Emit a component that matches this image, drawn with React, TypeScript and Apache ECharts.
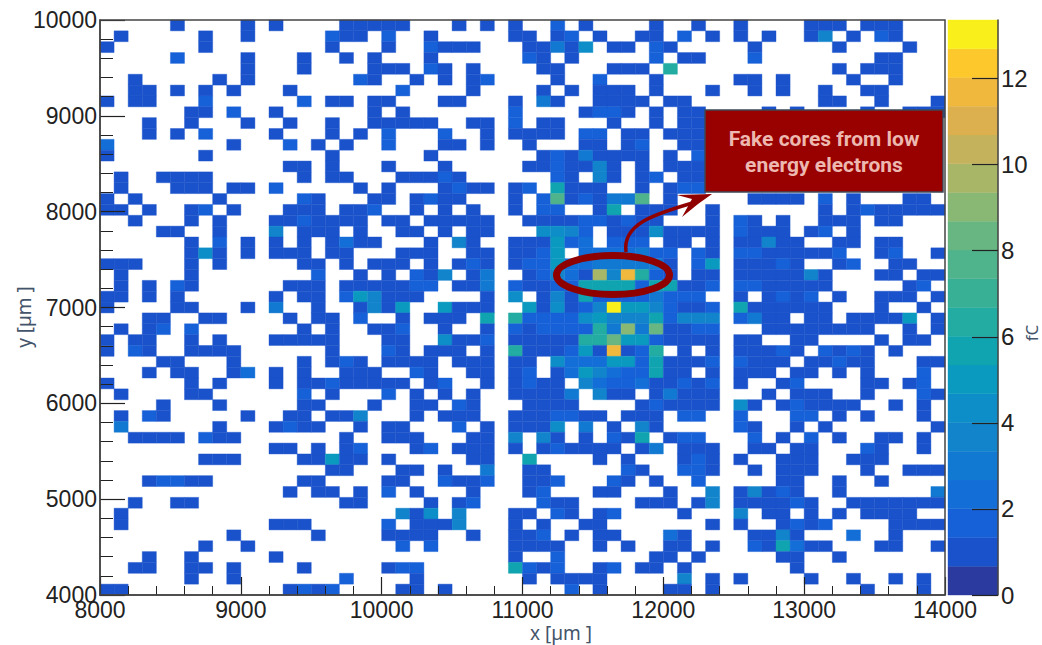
import React, { useEffect, useRef } from "react";
import * as echarts from "echarts";

const xMin = 8000, xMax = 14000, xBins = 60;
const yMin = 4000, yMax = 10000, yBins = 53;
const fcMax = 13.36;
const fcTicks = [0, 2, 4, 6, 8, 10, 12];
const axisTitleX = "x [µm ]";
const axisTitleY = "y [µm ]";
const axisTitleZ = "fC";
const calloutLines = ["Fake cores from low", "energy electrons"];

// colour levels of the palette, bottom to top
const palette = [
  "#2a3a9f", "#1a52cb", "#1660d8", "#146ed8", "#1279d2", "#1184cc", "#0d8ec8", "#0a9ac0", "#10a4b0", "#22aca2",
  "#38b096", "#4fb38c", "#68b682", "#88b874", "#a8b668", "#c4b25c", "#dcb04e", "#f0b83c", "#fcc82c", "#f9ef1a",
];

// each row from the top: "column" (about 1 fC) or "column:fC"
const rows = [
  "5 10 12 17 18 19 20 21 25 27 29 32:2 34 39 42 45 50 51 52 54 55 56",
  "1 7 10 16:2 17 18 20:2 23 29 30 32 33:2 35 38 39 41:2 43 45 47 50 51:4 53 55:2 56",
  "0 7 16 20 23:2 24 25 26 30 31 32:3 33 34:4.5 36 37 39:2 40 46 52 57",
  "5:2 10 14 17 19 23 30:2 31 33 39:2 41 42 46:2 55 56",
  "10 14 19 20 21 23:2 24 26 31 32 36 37 38 40:6.5 52 54 55 56",
  "2 8 10 18:2 19 22 24 26 27:2 32 35:2 39 45 46 48 53 56",
  "2 3 5 7 9 13 21:2 26 31 33 35 36 37 39 43 46 48 51 54 55",
  "0 2 3 7:2 14:2 16 17 19 20 24 25 29 31:3 32 35 36 37 38 40 41 51 52 55 59",
  "6 7 9:2 12 19 21 29:2 34 35:2 36:2 37 39 41 42 47 49 54 57 58 59",
  "3 6 10 13 16 19 20 21 22 23 26 27 29:2 31 32 36 39 41 42",
  "3 5 7:2 12 16 18 20:2 24:2 27 29 30 31 32 34:2 35:2 37 38 40 41 42",
  "0:2.5 9 13:2 15 17 20:2 24 25 27 30 34 35 37 38:2 41 42",
  "0 7 16 23 31 32:2 33 34:3 35 36 37 38 40 42:2",
  "13 14 16 20 24 30 31 32:2 33 34 35:4 36 38 40 41 42",
  "1 4 5 6 7 14 16 17 21 22 23 24:2 25 32:2 33 35:4 36 38 39:2 41 42",
  "1 5 6 7 9 10 12:2 18 20 24 25:2 26 27 29 30:2 32:5.5 33 34 35 38 40 41:2 42:2",
  "0 2 8 14:2 15 19 20 22 23:2 24 25 29 31:2 32:7.5 33 34:2 35 36:3 37:3 38:8 40 46 47 48 49 51:2 53 57 58",
  "0 1 3 6 7:2 9 13 14 15 17 18 19:2 22 24 26 29 31:2 32:2 35 36:6 38 39 40 43 51 53 54:2 55 56 57 58 59",
  "2 6 8 12 13 14:2 15 16 17 18 20 21 23 24 25 26 27 30 31 32 33 34:2 35:2 36 37:2 38 39 43 45:2 46 48 51 52 53 55 56",
  "4 5 8 12:4 14 15 16 18 21 22 24 26 27 31:4.5 32:4.5 33:4 34:2 36 37 38 39:4.5 40 41 42 43 45:2 46 47 48 50 51:2 53",
  "6 8:2 10 12 14 16 17:2.5 18 19 23 25:4 26 29 30 31 32:5 33:2 34:2.5 36:2 37:2 38:2 40 41 43 45 46 47:4 48 49 52 53 55 56",
  "6 7:4.5 8 10 12 13 14 16 17 21 22 23 26 27 29 30 31:2 32:5 34:2.5 35:2.5 36:2.5 37:2.5 38:3 39:2 40:2 42:2 43 45:2 46:2 47 48 49 50 51 52:2 55 56:2 59",
  "0 1 2 6 8 14 15 17 19 20 21 23 25 26:2 27 29 30:2 31:2 32:5 33:2.5 34:2.5 35:3 36:3 37:3 38:3 39:3 40 42:2 43:5 45 46 47 48:2 49 52 53:2 56 57",
  "1 6 15:2 18 20 22:2 23 24:4 26 27:3 30 31:2 32:4 33:2.5 34 35:10 36:4 37:11.5 38:6.5 39:2 40 42 43 45 46 47 48 49 50:4 51 55 56 58 59",
  "1 3 5:2 6 13 14 15 17 18 19 20 21 22:2 23:2 25 26 27:3 29:2 30 31 32:2 33:2 34:5.5 35:6 36:6 37:6 38:2 39:6 40:6 41 42 43:2 45:2 46:2 47 48 49 50 51 57 58:2",
  "0 1 3 5 12 14 15 17:2 18:5 19:4 20 21 22 27 29:4.5 31 32:4 33 34:5.5 35:2 36:2 37:2 38:2 39:3 40:2 41:2 42:2 45 47 48:2 49 50:2 52 55 56 57 59",
  "0 5 6 10 12:3 15 18 19:4 20 21:5 24:5 25 26 27 30:5 31 32:4.5 33 34:2 35:4 36:13.3 37:5 38:5 39:4 40:2 41 42 43:2 45:5.5 46 47 48 49 50 51 55 58",
  "3 4 7 8 13 15 16 18:2 21 23 24 25 27:6 29:6.5 30:2 31:2 32:2 33:2 34:4.5 35:5 36:3.5 37:3.5 38:3.5 39:6 40:2 41:3.5 42:3.5 43:3.5 45:2 46:3 47 48 50 51 53 54 55 56 57:5 59",
  "1 3 4:2 6:2 14 16 19 20 21:2 24 27 29:2 30 31:2 32:2 33:2 34:2 35:6.5 36:3 37:9 38:3 39:8.5 40 41 42:2 43:2 47 48 49 50 51 52 53 54 57 59",
  "0 2 3 6 8 12 13 14 15 16 20 21 24:4.5 25 26 27:2 29 30 31 32 33 34:6.5 35:6.5 36:8.5 37:5 38:5 39:2 40 41 42 43 45 46 49 50 55 57 58",
  "0 2:2 3 6 7 8 9 16 20:2 21 23 24 25 27 29:6.5 30 31 32 33:2 34:5 35 36:12 37 38:2 39:6.5 41 43 45 46 47 48:2 49 51:2 52 53:2 54 56",
  "4 5 9 14 16 17:2 18 20 21 22 23 25 26 27 29 30 32:4.5 33:2.5 34:2.5 35:2.5 36:5 37:5 38:2 39:6 40 41 42 43:2 45:2 46 47 48 50 51 52:2 53 54 58 59",
  "3 5 6 9 10:2.5 12 14 17 18 19 22:2 23 26 27 29 30:2 32 33:2.5 34:5 35:4 36:2.5 37:2 38:2 39:6 40 41 43 45 46 47 49 50 52 54 58:2",
  "0 6 8 12 14 15 16:2 17 18 19 20 21 23 24:2 27 29 30:2 31 32 34:4 35:2.5 36:2 37:2 38:2.5 39 40 41:2 42 43:2 45 48 49:2 54 55 57 58:2",
  "1 6 7 14:2 16 20:2 22 24 26 29 30 31 32 33:3 35:4 36 37 39 40:3 41 42 43 47 49 50 51 54 58:2 59",
  "4 8 14 15 19 22 23 25:2 26 30 31 32 33 38 39:2 40 41 42 43 45:4.5 46 48 49:2 50 51 52 53 56 58",
  "1 3:2 4 10 13 14 16 17 18:4 22 24 25 26 29 30 31 32:2 33:2 34 35 37 38 39 41:2 42:2 45:2 49:2 50:2 52 54 58",
  "1:3 8 12 13:2 14 15 18 20 21 25:2 27 29 30 31 32:4.5 34:3 36 38:4 39 45:2 46 49 51 59",
  "2 3 4 5 7:2 8 9 17 20 21 22 26 27 29:4 31:3.5 32 34 36:2 37 38:5.5 40 41:2 42:2 46:2 48 50:2 52 55 56 58",
  "12 13 15 17 18:2 22 23:2 25 26 27 29 31 32:2 33 34 35 36 38 39:3 41 42 43 46 47 49 50 54:2 55 58",
  "7 8 9 14 15 16:5 17 18 20 26 27 30:6 35 37 41 42:2 43 45 48 49 50 53 54 55",
  "16 17 21 22 24 27:3 30 31 37:2 38 41:2 42:2 43 46 48 49 50 54 57 58 59",
  "3 4:2 5:2 6 7 14 15 20 21 24:2 25 26 27:2 30 31 32:2 36:2 37 39 42:2 48 49 52 55",
  "13 15 16 18 20:2 22 26 30 31:2 35 36 40 43:4 45 46:4 47 48:2 49 52 59:3",
  "2 5 6 17 18 23 25 26:2 31:2 32 33 38 39 40 42 43:3.5 45 46 47 48 49:2 50 53 54 55 56 57 58 59",
  "1 21:3.5 22 23:4.5 25:4 29 30 32:2 33 35 36:2 41 45:4 47 48 50 52 54 55 56 57",
  "1 12 13 14 20:2 22 23 24 25:3.5 29 31 34 35 43 45 48 49:2 50 51:2 56 57 58 59",
  "9 15 20 21 22 23 26 29 30 31:2 33 35 36 40:2.5 41 46 47 48:4 49 53:2.5 56",
  "7 10 21:2 23:2 29 30 31 32 35 37 40 41 43 46:2 47 48:6 49:2.5 50 51 55 56 59",
  "3 6 12 29 32:2 39 40 42 48 49 52",
  "2 3 6 7 9 14 20 21:2 22:2 29:6 30:2 31 32:2 35 36:2 38 39 41 49",
  "6 9 17:2 22 30 32 33 34 35 41:4 43 45 50 53 56 58",
  "0 1 13 14:2 15 16:2 21 22 24 33:2 35 40 41 43 54 58",
];

const xStep = (xMax - xMin) / xBins;
const yStep = (yMax - yMin) / yBins;
const bandStep = fcMax / palette.length;
const colorOf = (v: number) => palette[Math.min(palette.length - 1, Math.floor(v / bandStep))];

const cellData: number[][] = [];
rows.forEach((row, r) => {
  row.split(" ").forEach((token) => {
    const [col, val] = token.split(":");
    const c = Number(col);
    const v = val === undefined ? 1 : Number(val);
    const top = yMax - r * yStep;
    cellData.push([xMin + c * xStep, top - yStep, xMin + (c + 1) * xStep, top, v]);
  });
});
const bandData = palette.map((_, i) => [0, i * bandStep, 1, (i + 1) * bandStep, (i + 0.5) * bandStep]);

const renderBox = (_: any, api: any) => {
  const a = api.coord([api.value(0), api.value(3)]);
  const b = api.coord([api.value(2), api.value(1)]);
  const fill = colorOf(api.value(4));
  return {
    type: "rect",
    shape: { x: a[0], y: a[1], width: b[0] - a[0], height: b[1] - a[1] },
    style: { fill, stroke: fill, lineWidth: 0.4 },
  };
};

const plain = (v: number) => String(v);
const tickFont = { fontFamily: "Liberation Sans", fontSize: 23, color: "#222222", formatter: plain };
const titleFont = { fontFamily: "Noto Sans", fontSize: 19, fill: "#44546a" };
const frameColor = "#444444";
const annot = "#8f0000";

export default function App() {
  const ref = useRef<HTMLDivElement>(null);
  useEffect(() => {
    document.body.style.margin = "0";
    const chart = echarts.init(ref.current!, undefined, { renderer: "svg" });
    chart.setOption({
      animation: false,
      backgroundColor: "#ffffff",
      grid: [
        { left: 100, top: 20, width: 845, height: 575 },
        { left: 948, top: 20, width: 50, height: 575 },
      ],
      xAxis: [
        {
          type: "value", gridIndex: 0, min: xMin, max: xMax, interval: 1000, z: 10, splitLine: { show: false },
          axisLine: { lineStyle: { color: frameColor, width: 1.5 } },
          axisTick: { inside: true, length: 18, lineStyle: { color: "#222", width: 1.2 } },
          minorTick: { show: true, splitNumber: 5, length: 9, lineStyle: { color: "#222", width: 1 } },
          axisLabel: { ...tickFont, margin: 3 },
        },
        { type: "value", gridIndex: 1, min: 0, max: 1, show: false },
      ],
      yAxis: [
        {
          type: "value", gridIndex: 0, min: yMin, max: yMax, interval: 1000, z: 10, splitLine: { show: false },
          axisLine: { lineStyle: { color: frameColor, width: 1.5 } },
          axisTick: { inside: true, length: 25, lineStyle: { color: "#222", width: 1.2 } },
          minorTick: { show: true, splitNumber: 5, length: 13, lineStyle: { color: "#222", width: 1 } },
          axisLabel: { ...tickFont, margin: 3 },
        },
        {
          type: "value", gridIndex: 1, position: "right", min: 0, max: fcMax, z: 10, splitLine: { show: false },
          axisLine: { show: true, onZero: false, lineStyle: { color: frameColor, width: 1.5 } },
          axisTick: { show: true, inside: true, length: 26, customValues: fcTicks, lineStyle: { color: "#222", width: 1.2 } },
          axisLabel: { ...tickFont, fontSize: 24, margin: 3, customValues: fcTicks },
        },
      ],
      series: [
        {
          type: "custom", xAxisIndex: 0, yAxisIndex: 0, renderItem: renderBox, data: cellData, z: 2,
          encode: { x: [0, 2], y: [1, 3] }, silent: true,
        },
        {
          type: "custom", xAxisIndex: 1, yAxisIndex: 1, renderItem: renderBox, data: bandData, z: 2,
          encode: { x: [0, 2], y: [1, 3] }, silent: true,
        },
      ],
      graphic: [
        { type: "rect", z: 20, shape: { x: 100, y: 20, width: 845, height: 575 }, style: { fill: "transparent", stroke: frameColor, lineWidth: 1.5 } },
        { type: "text", z: 20, x: 561, y: 633, style: { text: axisTitleX, ...titleFont, align: "center", verticalAlign: "middle" } },
        { type: "text", z: 20, x: 24, y: 317, rotation: Math.PI / 2, style: { text: axisTitleY, ...titleFont, align: "center", verticalAlign: "middle" } },
        { type: "text", z: 20, x: 1031, y: 333, rotation: Math.PI / 2, style: { text: axisTitleZ, ...titleFont, fontSize: 17, align: "center", verticalAlign: "middle" } },
        { type: "ellipse", z: 30, shape: { cx: 613, cy: 275, rx: 56.5, ry: 19.5 }, style: { fill: "transparent", stroke: annot, lineWidth: 7 } },
        { type: "bezierCurve", z: 30, shape: { x1: 626, y1: 252, cpx1: 622, cpy1: 224, x2: 696, y2: 202, cpx2: 654, cpy2: 214 }, style: { fill: "none", stroke: annot, lineWidth: 3.5 } },
        { type: "polygon", z: 30, shape: { points: [[712, 194], [677, 195], [692, 199], [682, 217], [698, 204]] }, style: { fill: annot } },
        { type: "rect", z: 30, shape: { x: 705, y: 110, width: 238, height: 82 }, style: { fill: "#990000", stroke: "#3c4854", lineWidth: 1.5 } },
        { type: "text", z: 31, x: 824, y: 139, style: { text: calloutLines[0], fontFamily: "Roboto", fontWeight: 700, fontSize: 21, fill: "#ecb8b0", align: "center", verticalAlign: "middle" } },
        { type: "text", z: 31, x: 824, y: 165, style: { text: calloutLines[1], fontFamily: "Roboto", fontWeight: 700, fontSize: 21, fill: "#ecb8b0", align: "center", verticalAlign: "middle" } },
      ],
    });
    return () => chart.dispose();
  }, []);
  return <div ref={ref} style={{ position: "absolute", left: 0, top: 0, width: 1042, height: 645 }} />;
}
